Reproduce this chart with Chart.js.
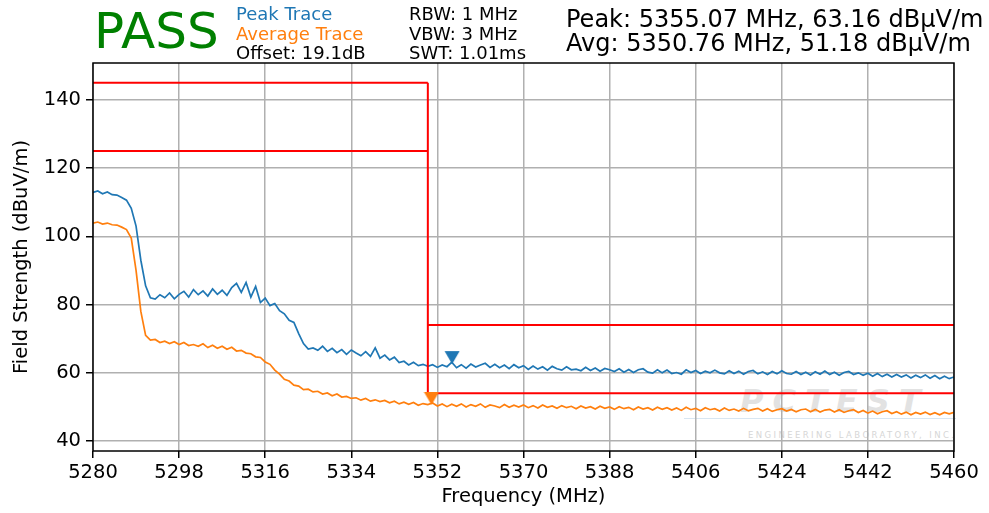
<!DOCTYPE html>
<html>
<head>
<meta charset="utf-8">
<script src="https://cdn.jsdelivr.net/npm/chart.js@4.4.1/dist/chart.umd.min.js"></script>
<style>
  html, body { margin:0; padding:0; background:#fff; }
  #wrap { position:relative; width:989px; height:513px; overflow:hidden; font-family:"DejaVu Sans", sans-serif; }
  #c { position:absolute; left:0; top:0; z-index:2; }
  .t { position:absolute; white-space:nowrap; line-height:1; z-index:3; }
  .wm { position:absolute; white-space:nowrap; line-height:1; z-index:1; }
</style>
</head>
<body>
<div id="wrap">
  <div class="t" style="left:94px;top:6px;font-size:50px;color:#008000;">PASS</div>
  <div class="t" style="left:236px;top:5px;font-size:18px;color:#1f77b4;">Peak Trace</div>
  <div class="t" style="left:236px;top:25px;font-size:18px;color:#ff7f0e;">Average Trace</div>
  <div class="t" style="left:236px;top:44px;font-size:18px;color:#000;">Offset: 19.1dB</div>
  <div class="t" style="left:409px;top:5px;font-size:18px;color:#000;">RBW: 1 MHz</div>
  <div class="t" style="left:409px;top:25px;font-size:18px;color:#000;">VBW: 3 MHz</div>
  <div class="t" style="left:409px;top:44px;font-size:18px;color:#000;">SWT: 1.01ms</div>
  <div class="t" style="left:566px;top:7px;font-size:24px;color:#000;">Peak: 5355.07 MHz, 63.16 dBµV/m</div>
  <div class="t" style="left:566px;top:31px;font-size:24px;color:#000;">Avg: 5350.76 MHz, 51.18 dBµV/m</div>
  <div class="wm" style="left:740px;top:385px;font-size:32px;font-weight:bold;font-style:italic;color:#e2e2e2;letter-spacing:9px;">PCTEST</div>
  <div class="wm" style="left:748px;top:431px;font-size:8.5px;color:#d6d6d6;letter-spacing:2.4px;">ENGINEERING LABORATORY, INC.</div>
  <div class="wm" style="left:684px;top:418px;width:272px;height:1px;background:#d8e6f2;"></div>
  <canvas id="c" width="989" height="513"></canvas>
</div>
<script>
// ---- data ----
const freqStart = 5280;   // MHz, first sample
const freqStep = 1;       // MHz between samples
const peakTrace = [
112.9,113.3,112.5,113.0,112.2,112.1,111.4,110.6,108.2,103.0,
93.0,85.5,82.0,81.6,82.9,82.0,83.4,81.7,83.0,83.9,
82.2,84.4,82.9,84.0,82.5,84.6,83.0,84.2,82.7,85.0,
86.2,83.6,86.5,82.2,85.3,80.6,81.9,79.7,80.3,78.2,
77.3,75.4,74.8,71.5,68.6,67.0,67.3,66.6,67.8,66.3,
67.2,65.9,66.8,65.4,66.7,65.8,65.0,66.2,64.8,67.3,
64.3,65.2,63.8,64.6,63.0,63.4,62.3,63.1,62.1,62.5,
61.9,62.4,61.6,62.3,61.8,63.1,61.5,62.4,61.4,62.6,
61.7,62.3,62.8,61.6,62.5,61.5,62.3,61.2,62.4,61.5,
62.1,61.0,62.0,61.1,61.8,60.8,61.9,61.2,60.8,61.8,
60.9,61.1,60.6,61.6,60.7,61.4,60.5,61.3,60.9,60.4,
61.2,60.2,61.0,60.1,60.9,61.2,60.2,59.9,60.9,60.0,
60.8,59.8,60.1,59.6,60.9,60.1,60.7,59.8,60.5,60.0,
60.8,60.0,59.7,60.6,59.8,60.5,59.6,60.4,60.7,59.7,
60.3,59.5,60.4,59.7,60.6,59.8,59.6,60.4,59.5,60.2,
59.4,60.3,59.6,60.5,59.5,60.2,59.3,60.1,60.4,59.5,
60.0,59.3,59.9,59.0,59.8,58.9,59.6,58.8,59.5,58.8,
59.4,58.5,59.3,58.6,59.4,58.4,59.2,58.3,59.0,58.3,
58.8
];
const avgTrace = [
103.9,104.2,103.6,103.9,103.4,103.3,102.7,102.0,99.5,90.0,
78.0,71.0,69.6,69.8,68.9,69.3,68.6,69.1,68.3,68.9,
68.0,68.3,67.8,68.5,67.4,68.1,67.2,67.8,66.9,67.5,
66.4,66.6,65.8,65.6,64.7,64.5,63.2,62.5,60.8,59.6,
58.1,57.6,56.4,56.1,55.1,55.2,54.4,54.6,53.8,54.1,
53.3,53.8,52.9,53.1,52.5,52.7,52.0,52.5,51.7,52.1,
51.6,51.9,51.2,51.7,50.9,51.4,50.8,51.3,50.5,51.0,
50.7,51.18,50.3,50.9,50.1,50.8,50.2,50.9,50.0,50.7,
50.2,50.9,49.9,50.6,50.3,49.8,50.7,49.9,50.5,50.0,
50.6,49.8,50.4,49.7,50.6,49.9,50.3,49.6,50.4,49.8,
50.2,49.5,50.3,49.7,50.1,49.4,50.2,49.6,50.0,49.3,
50.1,49.5,49.9,49.2,50.0,49.4,49.8,49.1,49.9,49.3,
49.8,49.1,49.7,49.0,49.9,49.2,49.6,48.9,49.8,49.2,
49.5,48.8,49.7,49.0,49.4,48.8,49.6,48.9,49.3,49.6,
48.8,49.5,48.7,49.2,49.5,48.8,49.3,48.6,49.2,49.4,
48.6,49.3,48.5,49.1,49.3,48.5,49.2,48.4,48.9,49.2,
48.4,49.0,48.2,48.8,48.0,48.6,48.9,48.1,48.6,47.9,
48.5,47.7,48.4,47.9,48.5,47.8,48.3,47.7,48.4,48.0,
48.4
];
// limit lines: [x1, y1, x2, y2]
const limitUpperA = [5280, 145, 5350, 145];
const limitUpperB = [5280, 125, 5350, 125];
const limitEdge   = [5350, 145, 5350, 54];
const limitPeak   = [5350, 74, 5460, 74];
const limitAvg    = [5350, 54, 5460, 54];
// markers
const peakMarker = [5355.07, 63.16];
const avgMarker  = [5350.76, 51.18];
// axes
const xTicks = [5280, 5298, 5316, 5334, 5352, 5370, 5388, 5406, 5424, 5442, 5460];
const yTicks = [40, 60, 80, 100, 120, 140];
const xRange = [5280, 5460];
const yRange = [37.1, 150.8];

// ---- build ----
const freqs = peakTrace.map((_, i) => freqStart + i * freqStep);
const toPts = arr => freqs.map((f, i) => ({x: f, y: arr[i]}));
const seg = s => [{x: s[0], y: s[1]}, {x: s[2], y: s[3]}];

function triImage(color) {
  const cv = document.createElement('canvas');
  cv.width = 16; cv.height = 26;
  const g = cv.getContext('2d');
  g.fillStyle = color;
  g.beginPath();
  g.moveTo(0.5, 2); g.lineTo(15.5, 2); g.lineTo(8, 15); g.closePath();
  g.fill();
  return cv;
}

const red = '#ff0000';
const lim = (s) => ({type:'line', data: seg(s), borderColor: red, borderWidth: 2, pointRadius: 0, order: 1});

const frame = {
  id: 'frame',
  afterDraw(chart) {
    const a = chart.chartArea, ctx = chart.ctx;
    ctx.save();
    ctx.strokeStyle = '#000';
    ctx.lineWidth = 1.5;
    ctx.strokeRect(a.left, a.top, a.right - a.left, a.bottom - a.top);
    ctx.restore();
  }
};

const tickFont = {family: 'DejaVu Sans', size: 19.5};

new Chart(document.getElementById('c'), {
  type: 'line',
  data: {
    datasets: [
      {type:'scatter', data: [{x: peakMarker[0], y: peakMarker[1]}], pointStyle: triImage('#1f77b4'), pointRadius: 8, order: 0},
      {type:'scatter', data: [{x: avgMarker[0], y: avgMarker[1]}], pointStyle: triImage('#ff7f0e'), pointRadius: 8, order: 0},
      lim(limitUpperA), lim(limitUpperB), lim(limitEdge), lim(limitPeak), lim(limitAvg),
      {data: toPts(avgTrace), borderColor: '#ff7f0e', borderWidth: 1.7, pointRadius: 0, order: 2},
      {data: toPts(peakTrace), borderColor: '#1f77b4', borderWidth: 1.7, pointRadius: 0, order: 3}
    ]
  },
  options: {
    responsive: false,
    animation: false,
    events: [],
    layout: {padding: {top: 63, right: 35, left: 0, bottom: 0}},
    plugins: {legend: {display: false}, tooltip: {enabled: false}},
    scales: {
      x: {
        type: 'linear', min: xRange[0], max: xRange[1],
        afterBuildTicks: s => { s.ticks = xTicks.map(v => ({value: v})); },
        afterFit: s => { s.height = 62; s.paddingLeft = 0; s.paddingRight = 0; },
        grid: {color: '#b0b0b0', lineWidth: 1.5, drawTicks: true, tickLength: 7, tickColor: '#000', tickWidth: 1.5},
        border: {display: false},
        ticks: {color: '#000', font: tickFont, padding: 3, maxRotation: 0, autoSkip: false, callback: v => String(v)},
        title: {display: true, text: 'Frequency (MHz)', color: '#000', font: {family: 'DejaVu Sans', size: 19.5, lineHeight: 1.2}, padding: {top: 0, bottom: 4}}
      },
      y: {
        type: 'linear', min: yRange[0], max: yRange[1],
        afterBuildTicks: s => { s.ticks = yTicks.map(v => ({value: v})); },
        afterFit: s => { s.width = 93; },
        grid: {color: '#b0b0b0', lineWidth: 1.5, drawTicks: true, tickLength: 7, tickColor: '#000', tickWidth: 1.5},
        border: {display: false},
        ticks: {color: '#000', font: tickFont, padding: 5, autoSkip: false, callback: v => String(v)},
        title: {display: true, text: 'Field Strength (dBuV/m)', color: '#000', font: {family: 'DejaVu Sans', size: 19.5, lineHeight: 1.2}, padding: {top: 10, bottom: 0}}
      }
    }
  },
  plugins: [frame]
});
</script>
</body>
</html>
